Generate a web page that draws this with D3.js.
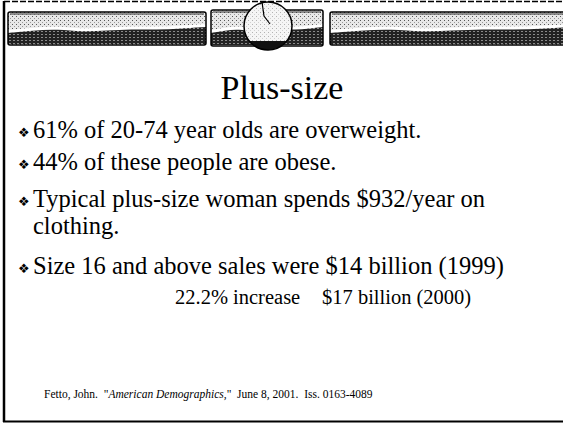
<!DOCTYPE html>
<html>
<head>
<meta charset="utf-8">
<script src="https://cdn.jsdelivr.net/npm/d3@7"></script>
<style>
  body { margin: 0; background: #fff; }
  svg { display: block; }
</style>
</head>
<body>
<svg id="slide" width="563" height="424"></svg>
<script>
// slide content
var title = "Plus-size";
var bullets = [
  ["61% of 20-74 year olds are overweight."],
  ["44% of these people are obese."],
  ["Typical plus-size woman spends $932/year on", "clothing."],
  ["Size 16 and above sales were $14 billion (1999)"]
];
var subline = ["22.2% increase", "$17 billion (2000)"];
var source = ["Fetto, John.  \"", "American Demographics,", "\"  June 8, 2001.  Iss. 0163-4089"];

// banner panels [x0, x1]
var panels = [[8, 206], [211, 323], [330, 575]];

var svg = d3.select('#slide');
var serif = "Liberation Serif";

// stipple patterns
var defs = svg.append('defs');
var light = defs.append('pattern').attr('id', 'stip').attr('width', 4).attr('height', 4)
  .attr('patternUnits', 'userSpaceOnUse');
light.append('rect').attr('width', 4).attr('height', 4).attr('fill', '#e8e8e8');
light.append('rect').attr('x', 0).attr('y', 0).attr('width', 1).attr('height', 1).attr('fill', '#555');
light.append('rect').attr('x', 2).attr('y', 2).attr('width', 1).attr('height', 1).attr('fill', '#999');

var dark = defs.append('pattern').attr('id', 'dark').attr('width', 4).attr('height', 3)
  .attr('patternUnits', 'userSpaceOnUse');
dark.append('rect').attr('width', 4).attr('height', 3).attr('fill', '#222');
dark.append('rect').attr('x', 1).attr('y', 1).attr('width', 2).attr('height', 1).attr('fill', '#8a8a8a');

// frame
svg.append('line').attr('x1', 4).attr('x2', 563).attr('y1', 1.5).attr('y2', 1.5)
  .attr('stroke', '#000').attr('stroke-width', 1.5).attr('stroke-dasharray', '6,2');
svg.append('line').attr('x1', 4).attr('x2', 4).attr('y1', 1).attr('y2', 422)
  .attr('stroke', '#000').attr('stroke-width', 2.5);
svg.append('line').attr('x1', 3).attr('x2', 563).attr('y1', 421.5).attr('y2', 421.5)
  .attr('stroke', '#000').attr('stroke-width', 2);

// banner
var wave = d3.line().curve(d3.curveBasis);
panels.forEach(function(p, i) {
  var x0 = p[0], x1 = p[1], w = x1 - x0;
  var top = i == 1 ? 10 : 12, bot = i == 1 ? 46 : 45;
  var g = svg.append('g');
  g.append('rect').attr('x', x0).attr('y', top).attr('width', w).attr('height', bot - top)
    .attr('rx', 2).attr('fill', 'url(#stip)');
  g.append('line').attr('x1', x0 + 2).attr('x2', x1 - 2).attr('y1', top + 2).attr('y2', top + 2)
    .attr('stroke', '#333').attr('stroke-width', 1);
  // white gap above the dark band
  var pts = [[x0, 33]];
  for (var k = 1; k <= 8; k++) {
    pts.push([x0 + w * k / 8, 32 - (k % 3) * 1.5 - (k > 5 ? 2 : 0)]);
  }
  g.append('path')
    .attr('d', wave(pts.map(function(d) { return [d[0], d[1] - 3]; }))
      + 'L' + x1 + ',' + (bot - 2) + 'L' + x0 + ',' + (bot - 2) + 'Z')
    .attr('fill', '#fff');
  g.append('path')
    .attr('d', wave(pts) + 'L' + x1 + ',' + (bot - 1) + 'L' + x0 + ',' + (bot - 1) + 'Z')
    .attr('fill', 'url(#dark)');
  g.append('rect').attr('x', x0).attr('y', top).attr('width', w).attr('height', bot - top)
    .attr('rx', 2).attr('fill', 'none').attr('stroke', '#000').attr('stroke-width', 1.5);
});

// globe
var cx = 268, cy = 26, r = 24;
defs.append('clipPath').attr('id', 'globe').append('circle').attr('cx', cx).attr('cy', cy).attr('r', r);
svg.append('circle').attr('cx', cx).attr('cy', cy).attr('r', r).attr('fill', '#fff');
svg.append('g').attr('clip-path', 'url(#globe)')
  .call(function(g) {
    g.append('rect').attr('x', cx - r).attr('y', cy - r).attr('width', 2 * r).attr('height', 2 * r)
      .attr('fill', 'url(#stip)').attr('opacity', 0.45);
    g.append('rect').attr('x', cx - r).attr('y', 41).attr('width', 2 * r).attr('height', 12).attr('fill', '#111');
    g.append('path').attr('d', 'M' + (cx - 6) + ',' + (cy - r) + 'L' + (cx - 4) + ',' + (cy - 10) + 'L' + (cx + 2) + ',' + (cy - 2))
      .attr('fill', 'none').attr('stroke', '#000').attr('stroke-width', 1.2);
  });
svg.append('circle').attr('cx', cx).attr('cy', cy).attr('r', r)
  .attr('fill', 'none').attr('stroke', '#000').attr('stroke-width', 1.5);

// title
svg.append('text').attr('x', 282).attr('y', 99).attr('text-anchor', 'middle')
  .attr('font-family', serif).attr('font-size', 34).text(title);

// bullets
var rowY = [138, 170, 207, 274];
var lineStep = 27;
bullets.forEach(function(lines, i) {
  svg.append('text').attr('x', 18).attr('y', rowY[i] - 1)
    .attr('font-family', 'DejaVu Sans').attr('font-size', 13).text('\u2756');
  lines.forEach(function(t, j) {
    svg.append('text').attr('x', 33).attr('y', rowY[i] + j * lineStep)
      .attr('font-family', serif).attr('font-size', 24.5).text(t);
  });
});
svg.append('text').attr('y', 304)
  .attr('font-family', serif).attr('font-size', 20.5)
  .selectAll('tspan').data(subline).join('tspan')
  .attr('x', function(d, i) { return i ? 322 : 175; })
  .text(function(d) { return d; });

// source line
svg.append('text').attr('x', 44).attr('y', 398)
  .attr('font-family', serif).attr('font-size', 11.5)
  .selectAll('tspan').data(source).join('tspan')
  .attr('font-style', function(d, i) { return i == 1 ? 'italic' : 'normal'; })
  .attr('xml:space', 'preserve')
  .text(function(d) { return d; });
</script>
</body>
</html>
